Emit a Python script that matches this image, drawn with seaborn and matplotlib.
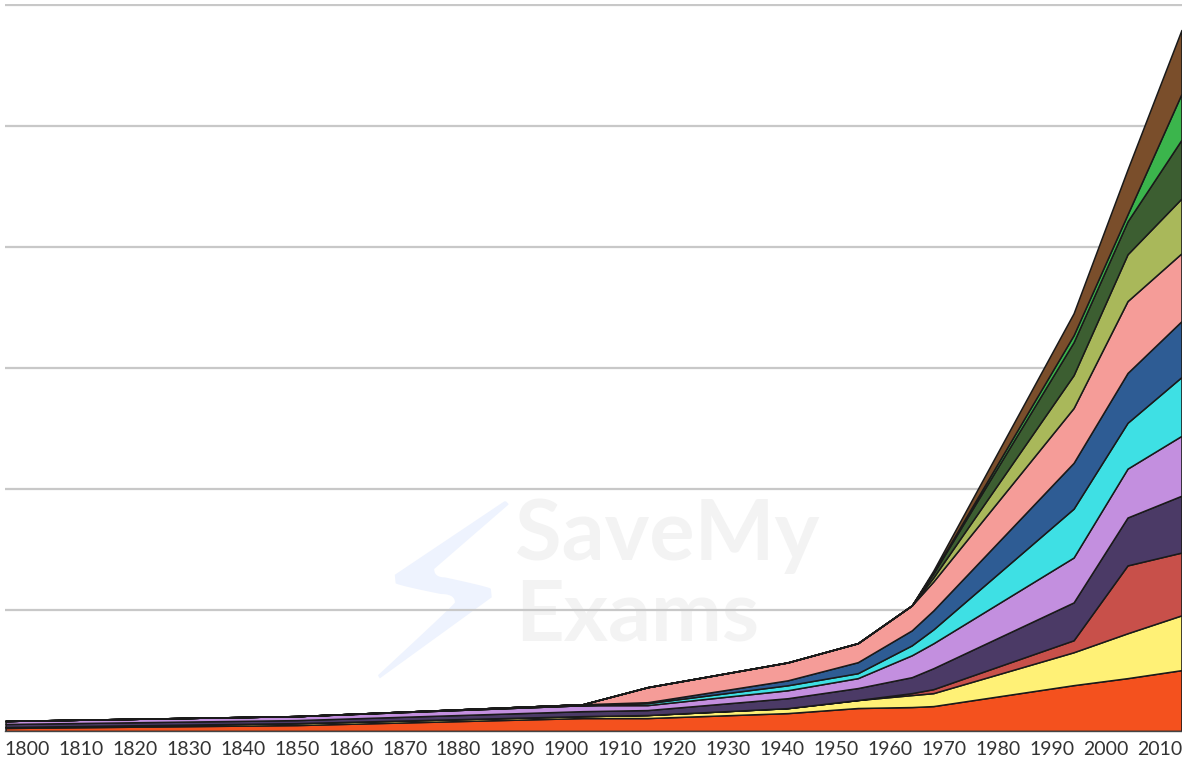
import numpy as np
import pandas as pd
import matplotlib
matplotlib.use("Agg")
import matplotlib.pyplot as plt
import seaborn as sns

# Years where the series change slope
years = [1796, 1850, 1903, 1915, 1941, 1954, 1964, 1968, 1994, 2004, 2014]

# Layer values, bottom to top (one gridline = 100)
orange = [2.5, 4.9, 10.7, 10.7, 14.8, 19.0, 19.8, 20.6, 37.9, 43.7, 50.3]
yellow = [0.8, 1.6, 1.6, 2.5, 4.1, 6.6, 9.9, 10.7, 27.2, 37.1, 45.3]
red = [0, 0, 0, 0, 0, 0, 1.6, 3.3, 9.9, 56.1, 51.9]
dark_purple = [2.5, 2.5, 4.1, 4.1, 8.2, 9.9, 13.2, 17.3, 31.3, 39.6, 47.0]
lavender = [2.5, 3.3, 4.9, 4.1, 6.6, 8.2, 18.1, 20.6, 37.1, 40.4, 49.5]
cyan = [0, 0, 0, 1.6, 4.1, 4.1, 8.2, 11.5, 40.4, 37.9, 48.6]
dark_blue = [0, 0, 0.8, 0.8, 4.1, 9.1, 12.4, 15.7, 37.9, 41.2, 46.2]
pink = [0, 0, 0, 12.4, 14.8, 15.7, 20.6, 23.9, 45.3, 59.4, 56.1]
olive = [0, 0, 0, 0, 0, 0, 0, 3.3, 27.2, 38.7, 45.3]
dark_green = [0, 0, 0, 0, 0, 0, 0, 3.3, 27.2, 27.2, 48.6]
green = [0, 0, 0, 0, 0, 0, 0, 0.8, 5.8, 5.8, 37.9]
brown = [0, 0, 0, 0, 0, 0, 0, 1.6, 18.1, 37.1, 52.8]

tick_years = list(range(1800, 2011, 10))

colors = ["#F4511E", "#FFF176", "#C8504A", "#4B3A66", "#C38FDF", "#3EE0E4",
          "#2E5C94", "#F59C98", "#A9B85A", "#3C5E31", "#3BB54C", "#7A4E2B"]

df = pd.DataFrame({
    "orange": orange, "yellow": yellow, "red": red, "dark_purple": dark_purple,
    "lavender": lavender, "cyan": cyan, "dark_blue": dark_blue, "pink": pink,
    "olive": olive, "dark_green": dark_green, "green": green, "brown": brown,
}, index=years)

sns.set_theme(style="white")
plt.rcParams["font.family"] = ["Lato", "DejaVu Sans"]

fig = plt.figure(figsize=(11.82, 7.61), dpi=100)
ax = fig.add_axes([5 / 1182, 30 / 761, 1 - 5 / 1182, 727 / 761])

ax.stackplot(df.index, df.T.values, colors=colors,
             edgecolor="#1a1a1a", linewidth=1.1)

# watermark
ax.text(0.433, 0.235, "SaveMy", transform=ax.transAxes, fontsize=61,
        color="#f3f3f3", fontweight="bold", zorder=0.5)
ax.text(0.433, 0.125, "Exams", transform=ax.transAxes, fontsize=61,
        color="#f3f3f3", fontweight="bold", zorder=0.5)
ax.text(0.30, 0.07, "\u26A1", transform=ax.transAxes, fontsize=175,
        color="#eef3fe", family="DejaVu Sans", zorder=0.4)

ax.set_xlim(1795.9, 2014.1)
ax.set_ylim(0, 601)
ax.set_yticks([100, 200, 300, 400, 500, 600])
ax.set_yticklabels([])
ax.yaxis.grid(True, color="#c8c8c8", linewidth=1.6, zorder=0)
ax.set_axisbelow(True)
ax.set_xticks(tick_years)
ax.set_xticklabels([str(y) for y in tick_years], fontsize=14, color="#333333")
ax.tick_params(axis="x", length=0, pad=7)
ax.tick_params(axis="y", length=0)
for s in ["top", "right", "left"]:
    ax.spines[s].set_visible(False)
ax.spines["bottom"].set_color("#444444")
ax.spines["bottom"].set_linewidth(1.0)

fig.savefig("out.png", dpi=100)
